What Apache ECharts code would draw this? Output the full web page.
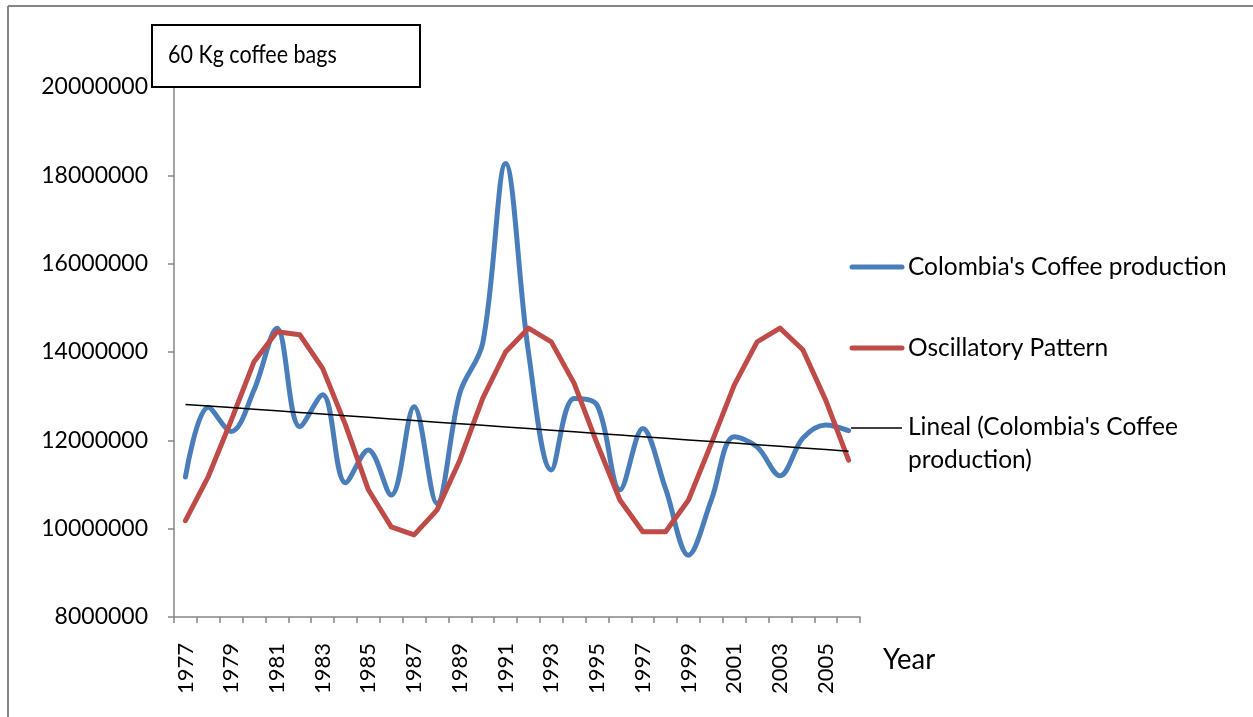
<!DOCTYPE html>
<html>
<head>
<meta charset="utf-8">
<script src="https://cdn.jsdelivr.net/npm/echarts@6/dist/echarts.min.js"></script>
<style>
  html, body { margin: 0; padding: 0; background: #fff; }
  #chart { width: 1253px; height: 717px; }
</style>
</head>
<body>
<div id="chart"></div>
<script>
// Colombian coffee production (60 kg bags), 1977-2006
const years = ['1977','1978','1979','1980','1981','1982','1983','1984','1985','1986',
               '1987','1988','1989','1990','1991','1992','1993','1994','1995','1996',
               '1997','1998','1999','2000','2001','2002','2003','2004','2005','2006'];

const production = [11170000, 12750000, 12200000, 13140000, 14540000, 12310000, 13030000, 11040000, 11780000, 10760000,
                    12760000, 10570000, 13070000, 14200000, 18270000, 14000000, 11330000, 12950000, 12800000, 10880000,
                    12270000, 10900000, 9400000, 10650000, 12080000, 11850000, 11200000, 12050000, 12350000, 12220000];

const oscillatory = [10180000, 11180000, 12450000, 13780000, 14460000, 14390000, 13630000, 12350000, 10880000, 10040000,
                     9860000, 10420000, 11550000, 12950000, 14000000, 14540000, 14230000, 13290000, 11930000, 10650000,
                     9930000, 9930000, 10650000, 11930000, 13250000, 14230000, 14540000, 14050000, 12910000, 11550000];

const yTicks = { min: 8000000, max: 20000000, step: 2000000 };

const seriesNames = ["Colombia's Coffee production", 'Oscillatory Pattern', "Lineal (Colombia's Coffee\nproduction)"];

// Least-squares linear trend of the production series
function linearTrend(values) {
  const n = values.length;
  let sx = 0, sy = 0, sxx = 0, sxy = 0;
  values.forEach((v, i) => { sx += i; sy += v; sxx += i * i; sxy += i * v; });
  const slope = (n * sxy - sx * sy) / (n * sxx - sx * sx);
  const icpt = (sy - slope * sx) / n;
  return values.map((_, i) => icpt + slope * i);
}
const trend = linearTrend(production);

const BLUE = '#4A7EBB';
const RED = '#BE4B48';
const AXIS = '#868686';
const FONT = 'Lato';

const chart = echarts.init(document.getElementById('chart'), null, { renderer: 'canvas' });

chart.setOption({
  backgroundColor: '#fff',
  animation: false,
  grid: { left: 174, right: 393, top: 87, bottom: 100, containLabel: false },
  xAxis: {
    type: 'category',
    data: years,
    boundaryGap: true,
    axisLine: { show: true, lineStyle: { color: AXIS, width: 1.5 } },
    axisTick: { show: true, interval: 0, length: 6, lineStyle: { color: AXIS, width: 1.5 } },
    axisLabel: { interval: 1, rotate: 90, margin: 26, color: '#000', fontFamily: FONT, fontSize: 22 },
    splitLine: { show: false }
  },
  yAxis: {
    type: 'value',
    min: yTicks.min,
    max: yTicks.max,
    interval: yTicks.step,
    axisLine: { show: true, lineStyle: { color: AXIS, width: 1.5 } },
    axisTick: { show: true, length: 6, lineStyle: { color: AXIS, width: 1.5 } },
    axisLabel: { margin: 26, color: '#000', fontFamily: FONT, fontSize: 23, formatter: (v) => String(v) },
    splitLine: { show: false }
  },
  series: [
    {
      name: seriesNames[0], type: 'line', data: production,
      smooth: 0.35, symbol: 'none',
      lineStyle: { color: BLUE, width: 5, cap: 'round', join: 'round' }, z: 3
    },
    {
      name: seriesNames[1], type: 'line', data: oscillatory,
      symbol: 'none',
      lineStyle: { color: RED, width: 5, cap: 'round', join: 'round' }, z: 4
    },
    {
      name: seriesNames[2], type: 'line', data: trend,
      symbol: 'none',
      lineStyle: { color: '#000', width: 1.5 }, z: 5
    }
  ],
  graphic: [
    // outer chart frame (top and left edges)
    { type: 'line', shape: { x1: 8, y1: 6, x2: 1253, y2: 6 }, style: { stroke: AXIS, lineWidth: 2 } },
    { type: 'line', shape: { x1: 8, y1: 6, x2: 8, y2: 717 }, style: { stroke: AXIS, lineWidth: 2 } },
    // unit box
    { type: 'rect', shape: { x: 152, y: 25, width: 268, height: 62 }, style: { fill: '#fff', stroke: '#000', lineWidth: 2 }, z: 10 },
    { type: 'text', x: 168, y: 55, scaleX: 0.86, z: 11,
      style: { text: '60 Kg coffee bags', fill: '#000', font: '25px ' + FONT, verticalAlign: 'middle', align: 'left' } },
    // axis title
    { type: 'text', x: 883, y: 660, scaleX: 0.98, z: 11,
      style: { text: 'Year', fill: '#000', font: '28px ' + FONT, verticalAlign: 'middle', align: 'left' } },
    // legend
    { type: 'line', shape: { x1: 852, y1: 267, x2: 902, y2: 267 }, style: { stroke: BLUE, lineWidth: 5, lineCap: 'round' } },
    { type: 'text', x: 908, y: 267, style: { text: seriesNames[0], fill: '#000', font: '24.5px ' + FONT, verticalAlign: 'middle' } },
    { type: 'line', shape: { x1: 852, y1: 348, x2: 902, y2: 348 }, style: { stroke: RED, lineWidth: 5, lineCap: 'round' } },
    { type: 'text', x: 908, y: 348, style: { text: seriesNames[1], fill: '#000', font: '24.5px ' + FONT, verticalAlign: 'middle' } },
    { type: 'line', shape: { x1: 851, y1: 428, x2: 902, y2: 428 }, style: { stroke: '#000', lineWidth: 1.5 } },
    { type: 'text', x: 908, y: 411, style: { text: seriesNames[2], fill: '#000', font: '24.5px ' + FONT, lineHeight: 33, verticalAlign: 'top' } }
  ]
});
</script>
</body>
</html>
